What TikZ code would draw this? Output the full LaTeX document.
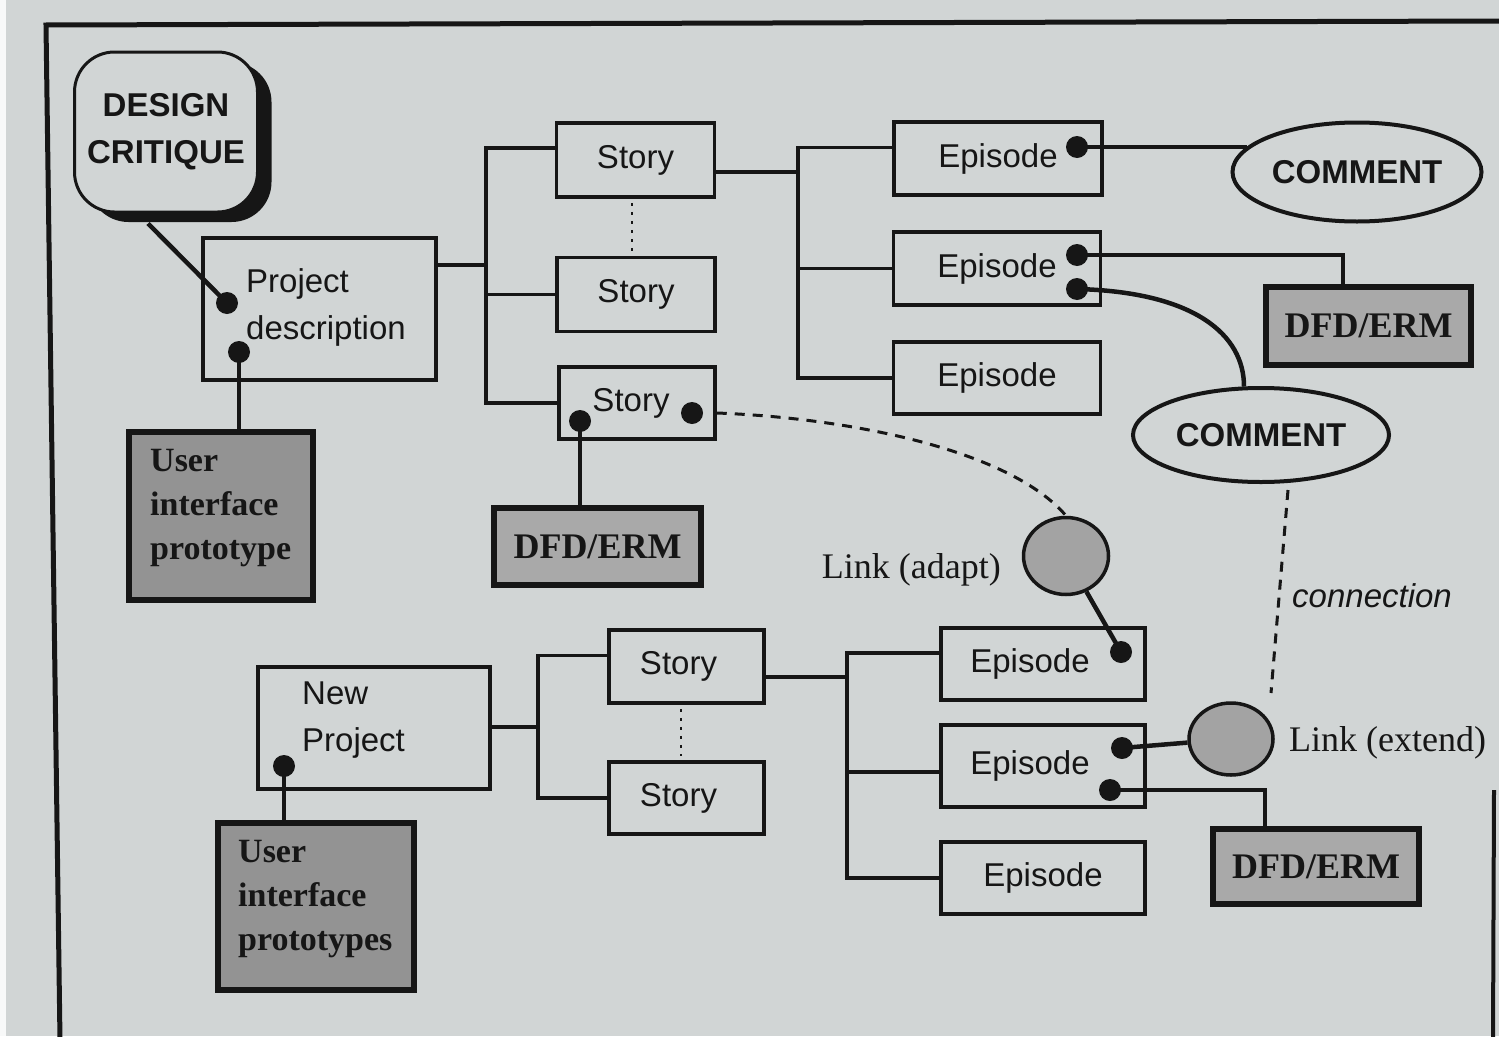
\documentclass[tikz,border=0pt]{standalone}
\usepackage{fontspec}
\setmainfont{Liberation Serif}
\newfontfamily\hv{Liberation Sans}
\newfontfamily\tm{Liberation Serif}
\usetikzlibrary{shapes.geometric,calc,shadows}
\definecolor{paper}{HTML}{D1D5D5}
\definecolor{ink}{HTML}{161616}
\definecolor{shadeA}{HTML}{939393}
\definecolor{shadeB}{HTML}{A9A9A9}
\definecolor{shadeC}{HTML}{A3A3A3}
\begin{document}
\begin{tikzpicture}[x=1pt,y=-1pt,
  every node/.style={inner sep=0pt, text=ink},
  sbox/.style={draw=ink, line width=3.5pt, rectangle, font=\hv\fontsize{33}{40}\selectfont},
  gbox/.style={draw=ink, line width=6pt, rectangle, fill=shadeB, font=\tm\bfseries\fontsize{36}{44}\selectfont},
  ubox/.style={draw=ink, line width=6pt, rectangle, fill=shadeA},
  cmt/.style={draw=ink, line width=4pt, ellipse, font=\hv\bfseries\fontsize{33}{40}\selectfont},
  lnk/.style={draw=ink, line width=3.5pt, ellipse, fill=shadeC},
  pin/.style={circle, fill=ink, minimum size=22pt},
  conn/.style={draw=ink, line width=4.5pt},
  brk/.style={draw=ink, line width=3.5pt, line join=miter},
  dsh/.style={draw=ink, line width=3pt, dash pattern=on 10pt off 8pt},
  dtt/.style={draw=ink, line width=2pt, dash pattern=on 3pt off 6pt},
  lbl/.style={font=\hv\fontsize{33}{47}\selectfont, align=left},
  ulbl/.style={font=\tm\bfseries\fontsize{34}{44}\selectfont, align=left},
  tlbl/.style={font=\tm\fontsize{36}{44}\selectfont}
]
\fill[paper] (0,0) rectangle (1499,1036);
\useasboundingbox (0,0) rectangle (1499,1036);
\fill[white!85!paper] (0,0) rectangle (6,1036);
% page frame
\draw[ink, line width=5pt] (60,1040) -- (46,25) -- (1499,21);
\draw[ink, line width=4pt] (1494,790) -- (1493,1040);

% ---------- upper project ----------
\node[draw=ink, line width=3pt, rounded corners=40pt, minimum width=183pt, minimum height=160pt,
      fill=paper, drop shadow={shadow xshift=14pt, shadow yshift=-10pt, fill=ink, opacity=1},
      font=\hv\bfseries\fontsize{33}{47}\selectfont, align=center] (dc) at (166,132) {DESIGN\\CRITIQUE};
\node[sbox, minimum width=233pt, minimum height=142pt] (pd) at (319.5,309) {};
\node[lbl, anchor=west] (pdt) at (246,307) {Project\\description};
\node[ubox, minimum width=184pt, minimum height=168pt] (ui1) at (221,516) {};
\node[ulbl, anchor=west] (ui1t) at (150,508) {User\\interface\\prototype};

\node[sbox, minimum width=158pt, minimum height=74pt] (s1) at (635.5,160) {Story};
\node[sbox, minimum width=158pt, minimum height=74pt] (s2) at (636,294.5) {Story};
\node[sbox, minimum width=156pt, minimum height=72pt] (s3) at (637,403) {\hspace*{-12pt}Story};
\node[gbox, minimum width=207pt, minimum height=77pt] (dfd1) at (597.5,546.5) {DFD/ERM};

\node[sbox, minimum width=208pt, minimum height=73pt] (e1) at (998,158.5) {Episode};
\node[sbox, minimum width=207pt, minimum height=73pt] (e2) at (997,268.5) {Episode};
\node[sbox, minimum width=207pt, minimum height=72pt] (e3) at (997,378) {Episode};
\node[cmt, minimum width=249pt, minimum height=99pt] (c1) at (1357,172) {COMMENT};
\node[gbox, minimum width=205pt, minimum height=78pt] (dfd2) at (1368.5,326) {DFD/ERM};
\node[cmt, minimum width=256pt, minimum height=94pt] (c2) at (1261,435) {COMMENT};

\node[lnk, minimum width=85pt, minimum height=77pt] (la) at (1066,556) {};
\node[tlbl, anchor=east] (lat) at (1001,570) {Link (adapt)};

% ---------- lower project ----------
\node[sbox, minimum width=232pt, minimum height=122pt] (np) at (374,728) {};
\node[lbl, anchor=west] (npt) at (302,720) {New\\Project};
\node[ubox, minimum width=196pt, minimum height=167pt] (ui2) at (316,906.5) {};
\node[ulbl, anchor=west] (ui2t) at (238,899) {User\\interface\\prototypes};

\node[sbox, minimum width=155pt, minimum height=73pt] (s4) at (686.5,666.5) {\hspace*{-16pt}Story};
\node[sbox, minimum width=155pt, minimum height=72pt] (s5) at (686.5,798) {\hspace*{-16pt}Story};

\node[sbox, minimum width=204pt, minimum height=72pt] (e4) at (1043,664) {\hspace*{-26pt}Episode};
\node[sbox, minimum width=204pt, minimum height=82pt] (e5) at (1043,766) {\hspace*{-26pt}Episode};
\node[sbox, minimum width=204pt, minimum height=72pt] (e6) at (1043,878) {Episode};
\node[lnk, minimum width=84pt, minimum height=72pt] (lx) at (1231,739) {};
\node[tlbl, anchor=west] (lxt) at (1289,743) {Link (extend)};
\node[gbox, minimum width=206pt, minimum height=75pt] (dfd3) at (1316,866.5) {DFD/ERM};

\node[font=\hv\itshape\fontsize{33}{40}\selectfont, anchor=west] (cnt) at (1292,596) {connection};

% ---------- pins ----------
\node[pin] (pd1) at (227,303) {};
\node[pin] (pd2) at (239,352) {};
\node[pin] (s3a) at (580,421) {};
\node[pin] (s3b) at (692,413) {};
\node[pin] (e1d) at (1077,147) {};
\node[pin] (e2a) at (1077,255) {};
\node[pin] (e2b) at (1077,289) {};
\node[pin] (e4d) at (1121,652) {};
\node[pin] (e5a) at (1122,748) {};
\node[pin] (e5b) at (1110,790) {};
\node[pin] (npd) at (284,766) {};

% ---------- brackets ----------
\coordinate (b1) at (486,265);
\draw[brk] (b1 -| pd.east) -- (b1);
\draw[brk] ($(s1.west)+(0,-12)$) -| (b1 |- s3.west) -- (s3.west);
\draw[brk] (s2.west) -- (s2.west -| b1);

\coordinate (b2) at (798,172);
\draw[brk] (b2 -| s1.east) -- (b2);
\draw[brk] ($(e1.west)+(0,-11)$) -| (b2 |- e3.west) -- (e3.west);
\draw[brk] (e2.west) -- (e2.west -| b2);

\coordinate (b3) at (538,727);
\draw[brk] (b3 -| np.east) -- (b3);
\draw[brk] ($(s4.west)+(0,-11)$) -| (b3 |- s5.west) -- (s5.west);

\coordinate (b4) at (847,677);
\coordinate (b4e) at (847,772);
\draw[brk] (b4 -| s4.east) -- (b4);
\draw[brk] ($(e4.west)+(0,-11)$) -| (b4 |- e6.west) -- (e6.west);
\draw[brk] (b4e) -- (b4e -| e5.west);

% dotted story links
\draw[dtt] ($(s1.south)+(-4,4)$) -- ($(s1.south |- s2.north)+(-4,-4)$);
\draw[dtt] ($(s4.south)+(-6,4)$) -- ($(s4.south |- s5.north)+(-6,-4)$);

% ---------- connectors ----------
\draw[conn] ($(dc.south)+(-18,10)$) -- (pd1.center);
\draw[conn] (pd2.center) -- (pd2 |- ui1.north);
\draw[conn] (s3a.center) -- (s3a |- dfd1.north);
\draw[conn] (e1d.center) -- (e1d -| c1.167);
\draw[conn] (e2a.center) -| ($(dfd2.north)+(-25.5,0)$);
\draw[conn] (e2b.center) .. controls (1195,292) and (1244,335) .. ($(c2.north)+(-17,0.5)$);
\draw[dsh] (s3b -| s3.east) .. controls (850,418) and (1010,450) .. (la.north);
\coordinate (cnA) at (1288,490);
\coordinate (cnB) at (1271,693);
\draw[dsh] (cnA) -- (cnB);
\draw[conn] (la) -- (e4d.center);
\draw[conn] (e5a.center) -- (lx);
\draw[conn] (e5b.center) -| ($(dfd3.north)+(-51,0)$);
\draw[conn] (npd.center) -- (npd |- ui2.north);
\end{tikzpicture}
\end{document}
